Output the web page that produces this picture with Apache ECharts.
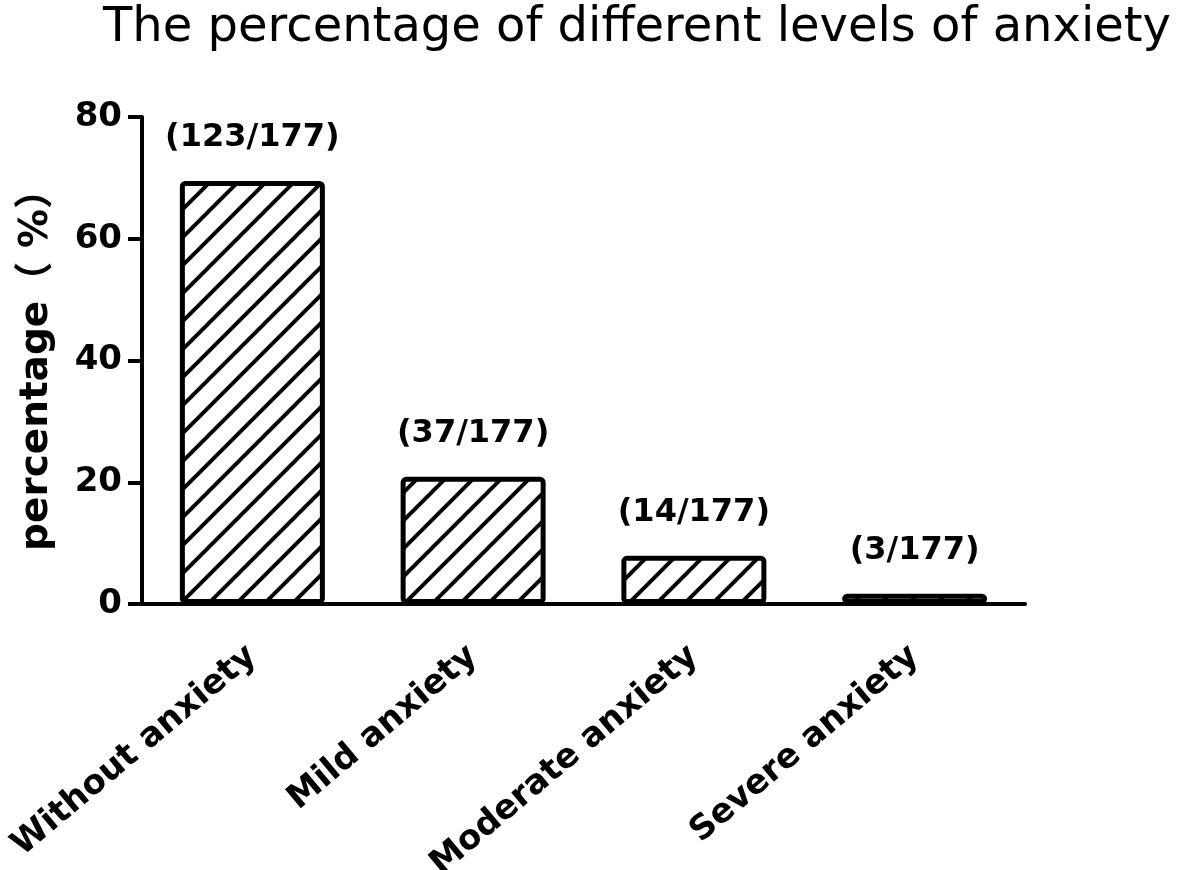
<!DOCTYPE html>
<html>
<head>
<meta charset="utf-8">
<script src="https://cdn.jsdelivr.net/npm/echarts@6/dist/echarts.min.js"></script>
<style>
  html, body { margin: 0; padding: 0; background: #fff; }
  #main { width: 1181px; height: 870px; }
</style>
</head>
<body>
<div id="main"></div>
<script>
var categories = ['Without anxiety', 'Mild anxiety', 'Moderate anxiety', 'Severe anxiety'];
var counts = [123, 37, 14, 3];
var total = 177;
var percents = [69.49, 20.90, 7.91, 1.69];
var yTicks = [0, 20, 40, 60, 80];

// diagonal hatch fill
function makeHatch() {
    var s = 28;
    var c = document.createElement('canvas');
    c.width = s; c.height = s;
    var ctx = c.getContext('2d');
    ctx.fillStyle = '#fff';
    ctx.fillRect(0, 0, s, s);
    ctx.strokeStyle = '#000';
    ctx.lineWidth = 4;
    [-s, 0, s].forEach(function (x0) {
        ctx.beginPath();
        ctx.moveTo(x0 - 2, s + 2);
        ctx.lineTo(x0 + s + 2, -2);
        ctx.stroke();
    });
    return c;
}

var FONT = 'DejaVu Sans';
var myChart = echarts.init(document.getElementById('main'));

var option = {
    backgroundColor: '#fff',
    animation: false,
    title: {
        text: 'The percentage of different levels of anxiety',
        left: 632,
        top: 0,
        textAlign: 'center',
        textStyle: { fontFamily: FONT, fontWeight: 'normal', fontSize: 48, color: '#000' }
    },
    grid: { left: 142, right: 156, top: 117, bottom: 266, containLabel: false, outerBoundsMode: 'none' },
    xAxis: {
        type: 'category',
        data: categories,
        axisLine: { lineStyle: { color: '#000', width: 4 } },
        axisTick: { alignWithLabel: true, length: 14, lineStyle: { color: '#000', width: 4 } },
        axisLabel: {
            rotate: 40, margin: 48, interval: 0,
            fontFamily: FONT, fontWeight: 'bold', fontSize: 34, color: '#000'
        }
    },
    yAxis: {
        type: 'value',
        min: yTicks[0],
        max: yTicks[yTicks.length - 1],
        interval: 20,
        name: 'percentage（ %）',
        nameLocation: 'middle',
        nameRotate: 90,
        nameGap: 86,
        nameTextStyle: { fontFamily: FONT + ', Noto Sans CJK SC', fontWeight: 'bold', fontSize: 39, color: '#000' },
        splitLine: { show: false },
        axisLine: { show: true, lineStyle: { color: '#000', width: 4 } },
        axisTick: { show: true, length: 14, lineStyle: { color: '#000', width: 4 } },
        axisLabel: { margin: 20, fontFamily: FONT, fontWeight: 'bold', fontSize: 34, color: '#000' }
    },
    series: [{
        type: 'bar',
        data: percents,
        barWidth: 145,
        itemStyle: {
            color: { image: makeHatch(), repeat: 'repeat' },
            borderColor: '#000',
            borderWidth: 5,
            borderRadius: 3
        },
        label: {
            show: true,
            position: 'top',
            distance: 27,
            fontFamily: FONT, fontWeight: 'bold', fontSize: 32, color: '#000',
            formatter: function (p) { return '(' + counts[p.dataIndex] + '/' + total + ')'; }
        }
    }]
};

myChart.setOption(option);
</script>
</body>
</html>
